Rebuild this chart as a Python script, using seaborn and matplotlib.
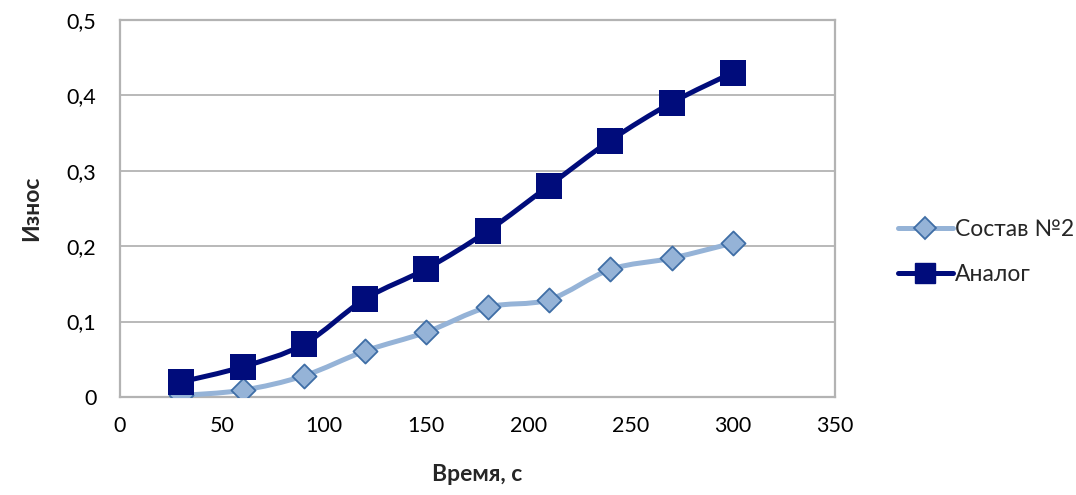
import numpy as np
import pandas as pd
import seaborn as sns
import matplotlib
matplotlib.use("Agg")
import matplotlib.pyplot as plt
from matplotlib.path import Path
from matplotlib.patches import PathPatch
from matplotlib.lines import Line2D

# Wear measurements over time
time_s = [30, 60, 90, 120, 150, 180, 210, 240, 270, 300]
wear_sostav2 = [0.002, 0.009, 0.028, 0.061, 0.086, 0.119, 0.129, 0.169, 0.184, 0.204]
wear_analog = [0.02, 0.04, 0.07, 0.13, 0.17, 0.22, 0.28, 0.34, 0.39, 0.43]
series_names = ["Состав №2", "Аналог"]
x_ticks = [0, 50, 100, 150, 200, 250, 300, 350]
y_ticks = [0, 0.1, 0.2, 0.3, 0.4, 0.5]

df = pd.concat([
    pd.DataFrame({"t": time_s, "wear": wear_sostav2, "series": series_names[0]}),
    pd.DataFrame({"t": time_s, "wear": wear_analog, "series": series_names[1]}),
])

sns.set_theme(style="white")
plt.rcParams["font.family"] = ["Lato", "DejaVu Sans"]

light = "#95B3D7"
light_edge = "#3F6EA6"
navy = "#000C7B"
grid_c = "#B3B3B3"

fig = plt.figure(figsize=(10.76, 4.95), dpi=100)
ax = fig.add_axes([0.1115, 0.198, 0.776 - 0.1115, 0.960 - 0.198])


def smooth_path(xs, ys, tension=1 / 6):
    """Cardinal-spline style Bezier path through the data points."""
    xs = np.asarray(xs, float)
    ys = np.asarray(ys, float)
    verts = [(xs[0], ys[0])]
    codes = [Path.MOVETO]
    n = len(xs)
    for i in range(n - 1):
        x0, y0 = (xs[i - 1], ys[i - 1]) if i > 0 else (xs[i], ys[i])
        x1, y1 = xs[i], ys[i]
        x2, y2 = xs[i + 1], ys[i + 1]
        x3, y3 = (xs[i + 2], ys[i + 2]) if i + 2 < n else (x2, y2)
        c1 = (x1 + (x2 - x0) * tension, y1 + (y2 - y0) * tension)
        c2 = (x2 - (x3 - x1) * tension, y2 - (y3 - y1) * tension)
        verts += [c1, c2, (x2, y2)]
        codes += [Path.CURVE4] * 3
    return Path(verts, codes)


ax.add_patch(PathPatch(smooth_path(time_s, wear_sostav2), fill=False,
                       edgecolor=light, lw=3.6, capstyle="round",
                       joinstyle="round", zorder=3))
ax.add_patch(PathPatch(smooth_path(time_s, wear_analog), fill=False,
                       edgecolor=navy, lw=3.6, capstyle="round",
                       joinstyle="round", zorder=3))

sns.scatterplot(data=df[df.series == series_names[0]], x="t", y="wear",
                marker="D", s=150, color=light, edgecolor=light_edge,
                linewidth=1.3, ax=ax, zorder=4, legend=False)
sns.scatterplot(data=df[df.series == series_names[1]], x="t", y="wear",
                marker="s", s=330, color=navy, edgecolor=navy,
                linewidth=0, ax=ax, zorder=5, legend=False)

ax.set_xlim(0, 350)
ax.set_ylim(0, 0.5)
ax.set_xticks(x_ticks)
ax.set_yticks(y_ticks)
ax.set_xticklabels([str(v) for v in x_ticks])
ax.set_yticklabels([("%g" % v).replace(".", ",") for v in y_ticks])
ax.tick_params(axis="both", length=0, labelsize=15.5, colors="#000000")
ax.tick_params(axis="x", pad=14)
ax.tick_params(axis="y", pad=17)

ax.yaxis.grid(True, color=grid_c, lw=1.3)
ax.xaxis.grid(False)
for side in ["left", "right", "top", "bottom"]:
    ax.spines[side].set_visible(True)
    ax.spines[side].set_color(grid_c)
    ax.spines[side].set_linewidth(1.6)

ax.set_xlabel("Время, с", fontsize=16.5, fontweight="bold", labelpad=20)
ax.set_ylabel("")
fig.text(32 / 1076, 1 - 208 / 495, "Износ", rotation=90, fontsize=16.5,
         fontweight="bold", ha="center", va="center")

handles = [
    Line2D([0], [0], color=light, lw=3.6, marker="D", markersize=11,
           markerfacecolor=light, markeredgecolor=light_edge, markeredgewidth=1.3),
    Line2D([0], [0], color=navy, lw=3.6, marker="s", markersize=14,
           markerfacecolor=navy, markeredgecolor=navy),
]
fig.legend(handles, series_names, loc="center left",
           bbox_to_anchor=(0.815, 0.49), frameon=False, fontsize=16.5,
           handlelength=2.4, handletextpad=0.1, labelspacing=1.05)

fig.savefig("out.png", dpi=100)
